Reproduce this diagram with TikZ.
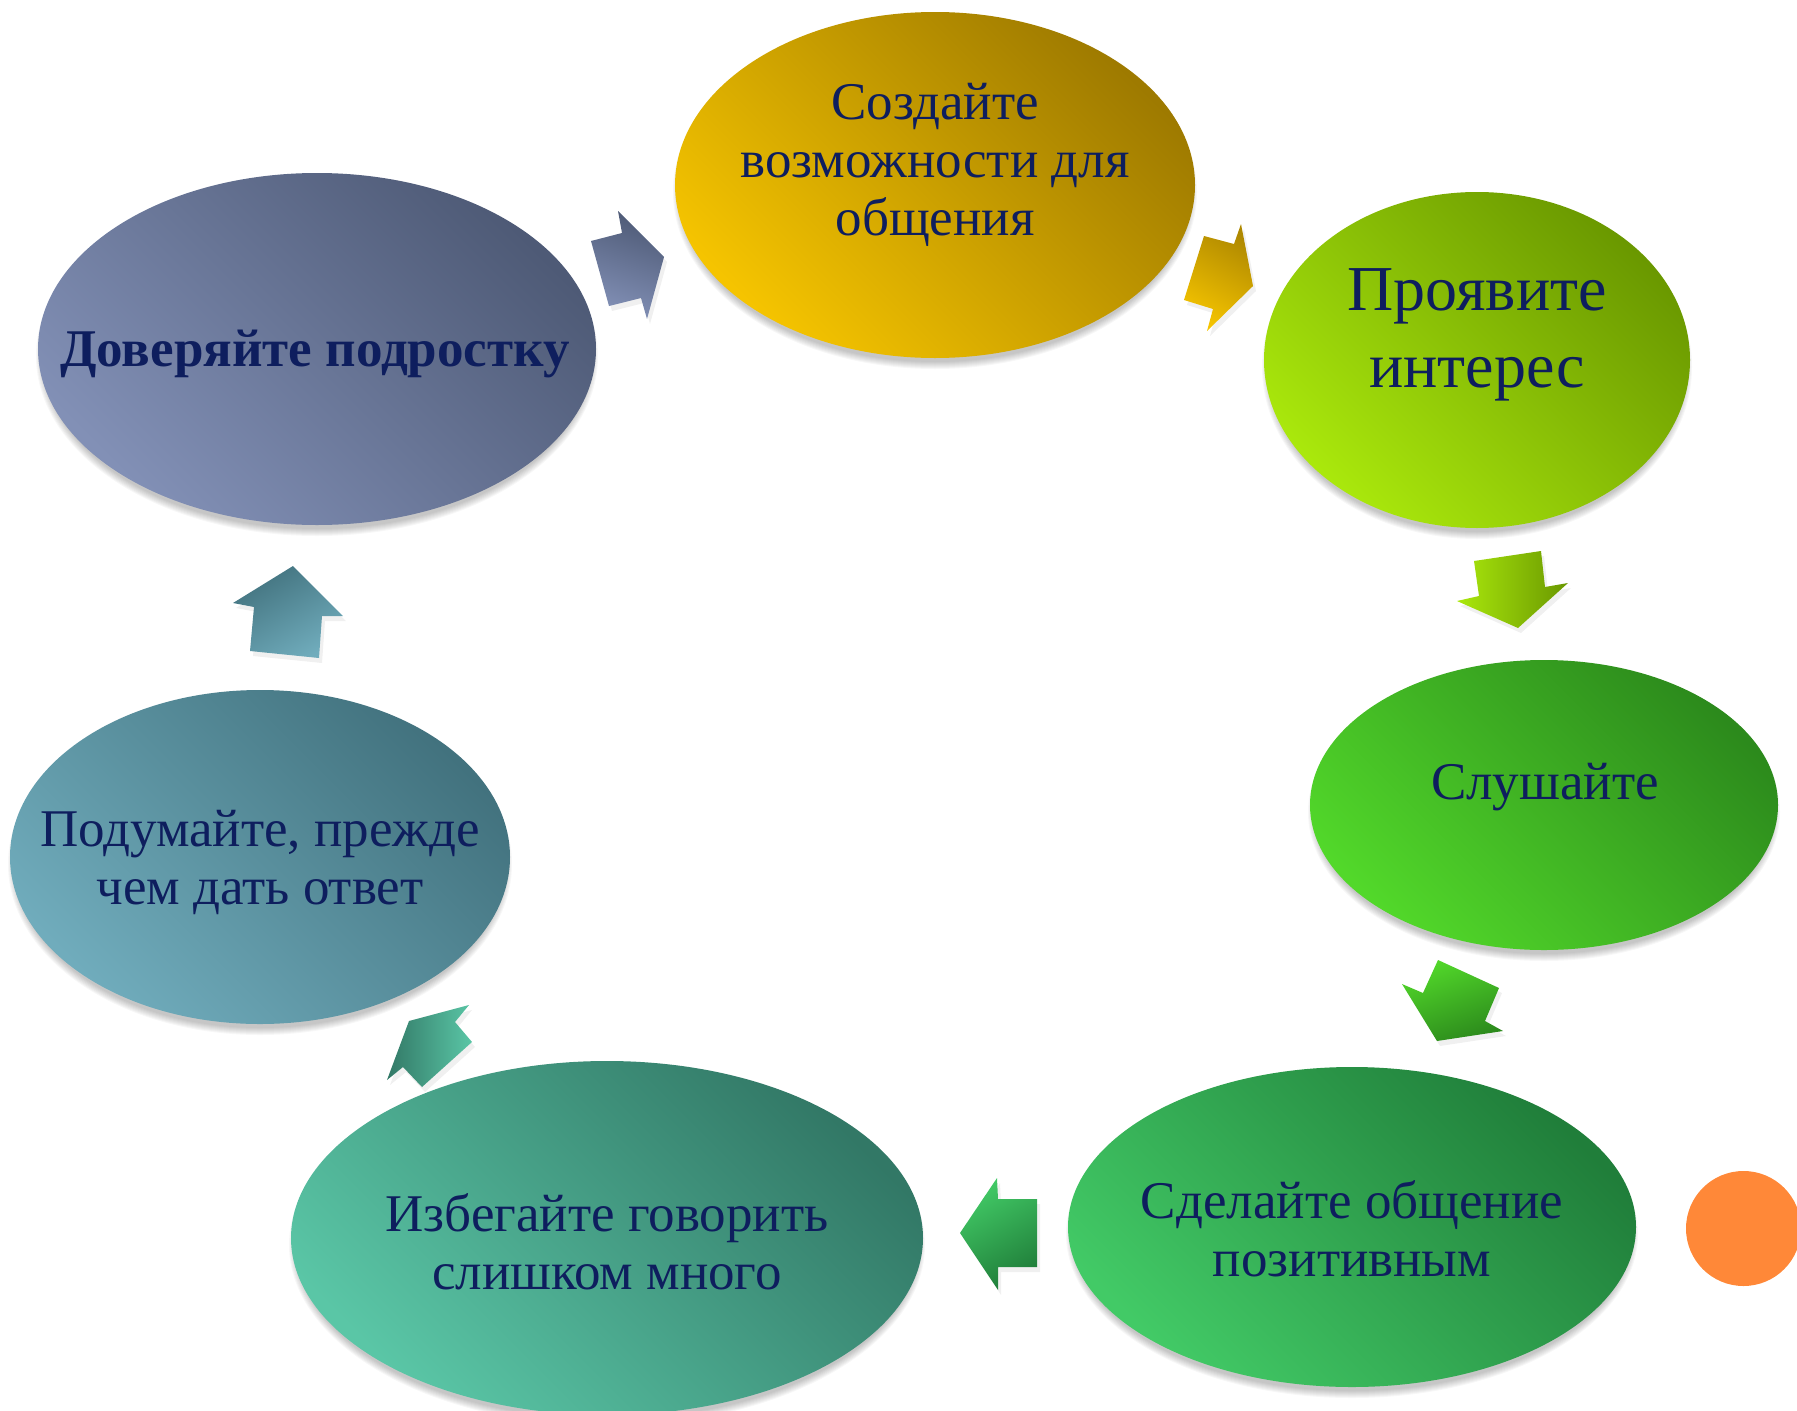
\documentclass[tikz,border=0pt]{standalone}
\usepackage{fontspec}
\setmainfont{Liberation Serif}
\usetikzlibrary{shapes.geometric}
\definecolor{txt}{RGB}{14,30,94}
\definecolor{goldL}{RGB}{245,196,0}
\definecolor{goldD}{RGB}{158,122,0}
\definecolor{limeL}{RGB}{170,232,12}
\definecolor{limeD}{RGB}{106,152,0}
\definecolor{grnL}{RGB}{82,216,42}
\definecolor{grnD}{RGB}{44,138,28}
\definecolor{gr2L}{RGB}{66,202,102}
\definecolor{gr2D}{RGB}{32,126,58}
\definecolor{tealL}{RGB}{90,198,166}
\definecolor{tealD}{RGB}{50,120,102}
\definecolor{bluL}{RGB}{112,172,188}
\definecolor{bluD}{RGB}{66,114,126}
\definecolor{slaL}{RGB}{130,144,182}
\definecolor{slaD}{RGB}{78,90,118}
\definecolor{orng}{RGB}{255,136,56}
\newcommand{\ovshadow}[4]{%
  \foreach \k in {1,...,8}{%
    \fill[black,opacity=0.03] (#1,#2+7) ellipse ({(#3-6+\k)*1pt} and {(#4-4+\k)*1pt});}}
\begin{document}
\begin{tikzpicture}[x=1pt,y=-1pt,
  oval/.style={ellipse,inner sep=0pt,draw=none},
  lbl/.style={text=txt,align=center,inner sep=0pt,font=\fontsize{53}{58}\selectfont},
  ashadow/.style={black,opacity=0.06}]
\useasboundingbox (0,0) rectangle (1797,1411);

% shadows
\ovshadow{935}{185}{260}{173}
\ovshadow{1477}{360}{213}{168}
\ovshadow{1544}{805}{234}{145}
\ovshadow{1352}{1227}{284}{160}
\ovshadow{607}{1238}{316}{177}
\ovshadow{260}{857}{250}{167}
\ovshadow{317}{349}{279}{176}

% ellipses
\node[oval,minimum width=520pt,minimum height=346pt,top color=goldD,bottom color=goldL,shading angle=-45] (e1) at (935,185) {};
\node[oval,minimum width=426pt,minimum height=336pt,top color=limeD,bottom color=limeL,shading angle=-45] (e2) at (1477,360) {};
\node[oval,minimum width=468pt,minimum height=290pt,top color=grnD,bottom color=grnL,shading angle=-45] (e3) at (1544,805) {};
\node[oval,minimum width=568pt,minimum height=320pt,top color=gr2D,bottom color=gr2L,shading angle=-45] (e4) at (1352,1227) {};
\node[oval,minimum width=632pt,minimum height=354pt,top color=tealD,bottom color=tealL,shading angle=-45] (e5) at (607,1238) {};
\node[oval,minimum width=500pt,minimum height=334pt,top color=bluD,bottom color=bluL,shading angle=-45] (e6) at (260,857) {};
\node[oval,minimum width=558pt,minimum height=352pt,top color=slaD,bottom color=slaL,shading angle=-45] (e7) at (317,349) {};

% labels
\node[lbl] (t1) at (935,165) {Создайте\\возможности для\\общения};
\node[lbl,font=\fontsize{64}{77}\selectfont] (t2) at (1477,335) {Проявите\\интерес};
\node[lbl] (t3) at (1545,787) {Слушайте};
\node[lbl] (t4) at (1352,1229) {Сделайте общение\\позитивным};
\node[lbl] (t5) at (607,1242) {Избегайте говорить\\слишком много};
\node[lbl] (t6) at (260,862) {Подумайте, прежде\\чем дать ответ};
\node[lbl,font=\fontsize{53}{58}\selectfont\bfseries] (t7) at (315,354) {Доверяйте подростку};

% arrow shadows
\begin{scope}[shift={(3,5)}]
\fill[ashadow] (591,241) -- (622,233) -- (618,211) -- (664,257) -- (647,319) -- (641,298) -- (609,306) -- cycle;
\fill[ashadow] (1204,236) -- (1234,244) -- (1241,224) -- (1253,286) -- (1207,331) -- (1213,309) -- (1184,300) -- cycle;
\fill[ashadow] (1474,561) -- (1541,551) -- (1545,587) -- (1568,583) -- (1518,628) -- (1457,601) -- (1479,596) -- cycle;
\fill[ashadow] (1438,960) -- (1499,988) -- (1485,1021) -- (1503,1031) -- (1437,1041) -- (1402,984) -- (1423,993) -- cycle;
\fill[ashadow] (1037,1199) -- (1037,1267) -- (998,1267) -- (998,1290) -- (960,1233) -- (997,1178) -- (998,1199) -- cycle;
\fill[ashadow] (409,1021) -- (469,1005) -- (455,1022) -- (472,1042) -- (422,1087) -- (403,1067) -- (387,1080) -- cycle;
\fill[ashadow] (293,566) -- (343,616) -- (322,616) -- (319,658) -- (250,651) -- (254,607) -- (233,603) -- cycle;
\end{scope}

% block arrows
\shade[top color=slaD,bottom color=slaL,shading angle=-20] (591,241) -- (622,233) -- (618,211) -- (664,257) -- (647,319) -- (641,298) -- (609,306) -- cycle;
\shade[top color=goldD!80!goldL,bottom color=goldL,shading angle=-30] (1204,236) -- (1234,244) -- (1241,224) -- (1253,286) -- (1207,331) -- (1213,309) -- (1184,300) -- cycle;
\shade[left color=limeL,right color=limeD] (1474,561) -- (1541,551) -- (1545,587) -- (1568,583) -- (1518,628) -- (1457,601) -- (1479,596) -- cycle;
\shade[top color=grnL,bottom color=grnD,shading angle=20] (1438,960) -- (1499,988) -- (1485,1021) -- (1503,1031) -- (1437,1041) -- (1402,984) -- (1423,993) -- cycle;
\shade[top color=gr2L,bottom color=gr2D,shading angle=30] (1037,1199) -- (1037,1267) -- (998,1267) -- (998,1290) -- (960,1233) -- (997,1178) -- (998,1199) -- cycle;
\shade[left color=tealD,right color=tealL] (409,1021) -- (469,1005) -- (455,1022) -- (472,1042) -- (422,1087) -- (403,1067) -- (387,1080) -- cycle;
\shade[top color=bluD,bottom color=bluL,shading angle=30] (293,566) -- (343,616) -- (322,616) -- (319,658) -- (250,651) -- (254,607) -- (233,603) -- cycle;

% orange circle
\fill[orng] (1743.5,1228.5) circle (57.5pt);
\end{tikzpicture}
\end{document}
